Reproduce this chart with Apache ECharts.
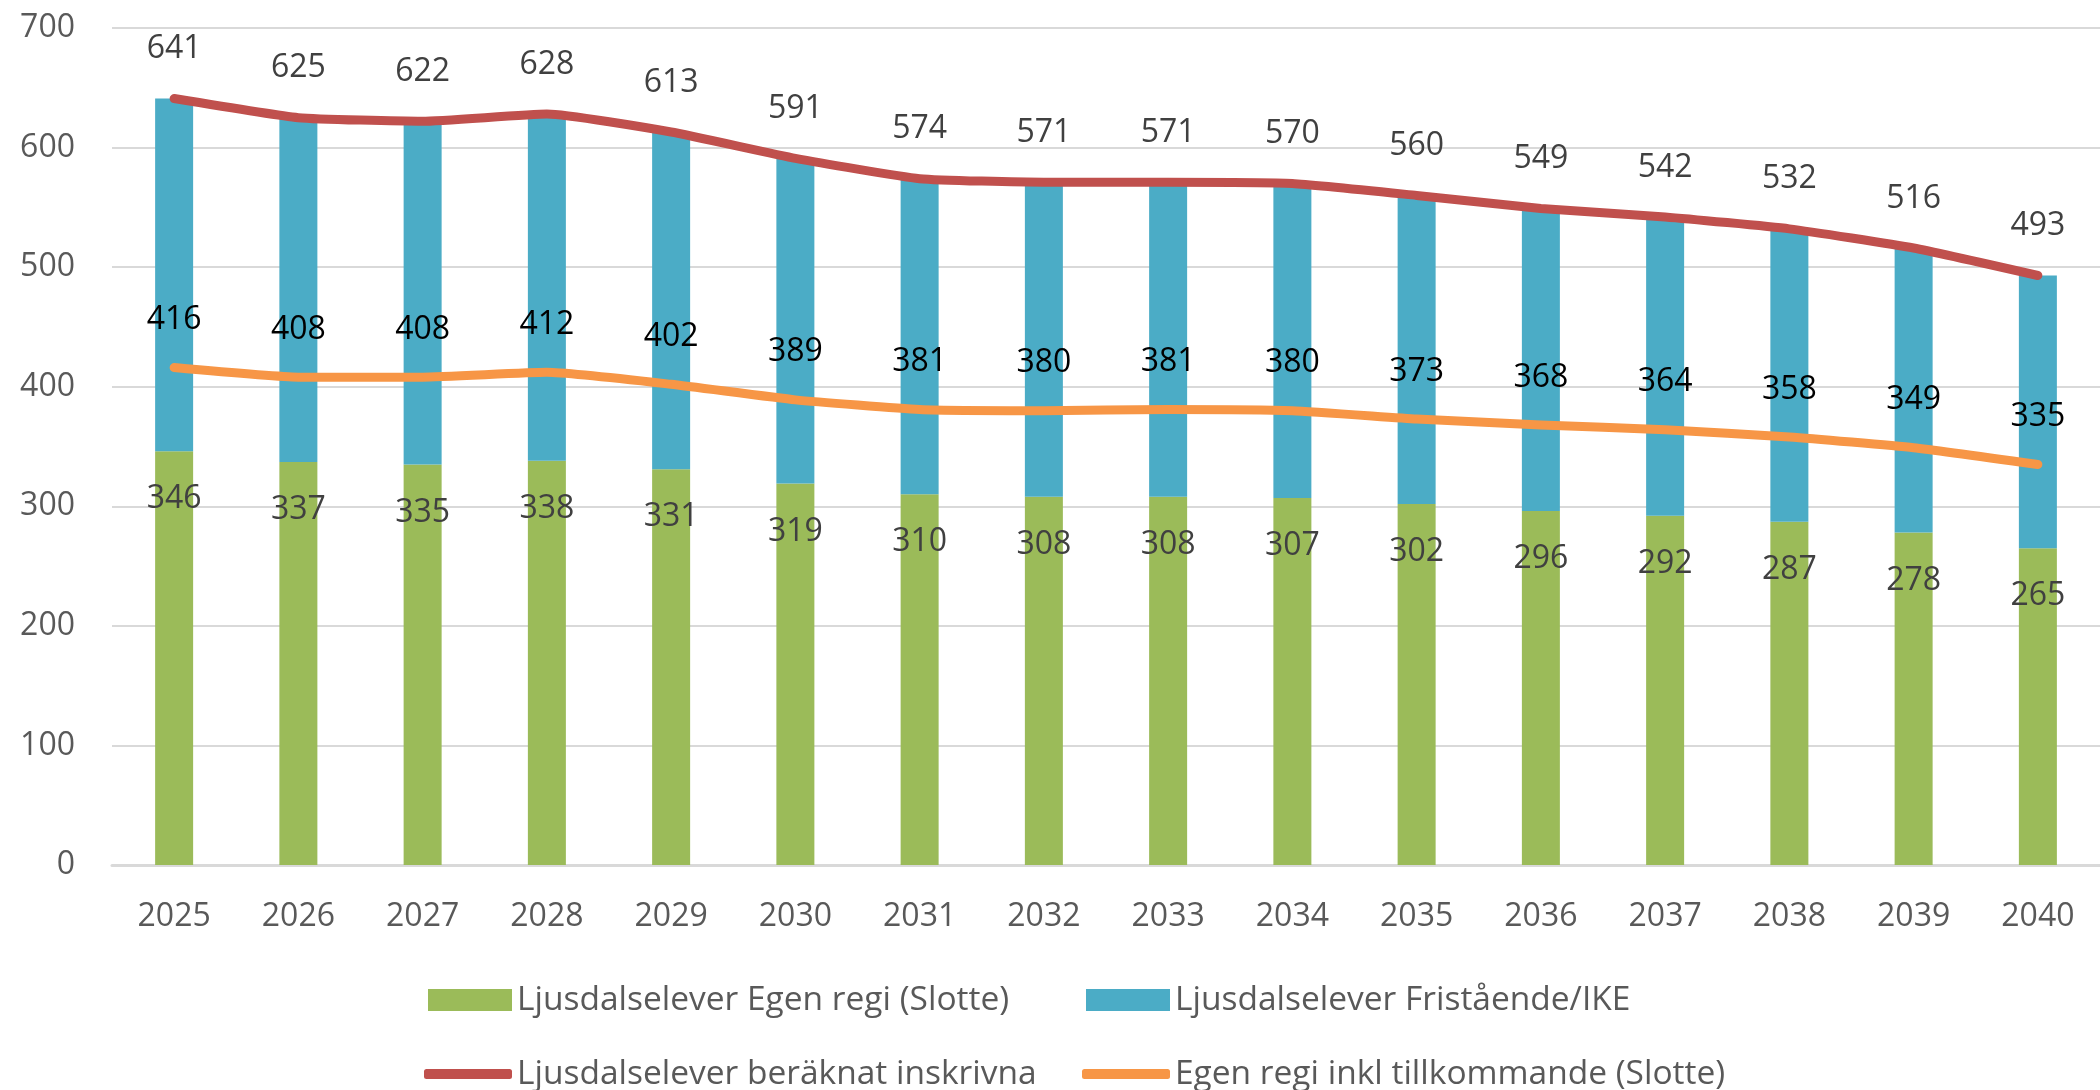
<!DOCTYPE html>
<html>
<head>
<meta charset="utf-8">
<script src="https://cdn.jsdelivr.net/npm/echarts@6/dist/echarts.min.js"></script>
<style>
html,body{margin:0;padding:0;background:#fff;}
#chart{width:2100px;height:1090px;}
</style>
</head>
<body>
<div id="chart"></div>
<script>
const years = ['2025','2026','2027','2028','2029','2030','2031','2032','2033','2034','2035','2036','2037','2038','2039','2040'];
const egenRegi = [346,337,335,338,331,319,310,308,308,307,302,296,292,287,278,265];
const fristaende = [295,288,287,290,282,272,264,263,263,263,258,253,250,245,238,228];
const beraknatInskrivna = [641,625,622,628,613,591,574,571,571,570,560,549,542,532,516,493];
const egenInklTillkommande = [416,408,408,412,402,389,381,380,381,380,373,368,364,358,349,335];
const yTicks = [0,100,200,300,400,500,600,700];

const names = [
  'Ljusdalselever Egen regi (Slotte)',
  'Ljusdalselever Fristående/IKE',
  'Ljusdalselever beräknat inskrivna',
  'Egen regi inkl tillkommande (Slotte)'
];
const colors = ['#9BBB59','#4BACC6','#C0504D','#F79646'];
const FONT = 'Open Sans';

const legendBase = {
  orient: 'horizontal',
  padding: 0,
  itemGap: 0,
  textStyle: {fontFamily: FONT, fontSize: 33.5, color: '#595959', lineHeight: 40},
  selectedMode: false
};

const chart = echarts.init(document.getElementById('chart'), null, {renderer: 'canvas'});
chart.setOption({
  animation: false,
  backgroundColor: '#ffffff',
  color: colors,
  grid: {left: 112, top: 28, width: 1992, height: 837, containLabel: false},
  legend: [
    Object.assign({}, legendBase, {data: [names[0]], left: 428, top: 980, itemWidth: 84, itemHeight: 22, icon: 'rect'}),
    Object.assign({}, legendBase, {data: [names[1]], left: 1086, top: 980, itemWidth: 84, itemHeight: 22, icon: 'rect'}),
    Object.assign({}, legendBase, {data: [names[2]], left: 424, top: 1054, itemWidth: 88, itemHeight: 10, icon: 'roundRect'}),
    Object.assign({}, legendBase, {data: [names[3]], left: 1082, top: 1054, itemWidth: 88, itemHeight: 10, icon: 'roundRect'})
  ],
  xAxis: {
    type: 'category',
    data: years,
    boundaryGap: true,
    axisLine: {show: true, lineStyle: {color: '#D9D9D9', width: 3}},
    axisTick: {show: false},
    axisLabel: {fontFamily: FONT, fontSize: 32, color: '#595959', margin: 36}
  },
  yAxis: {
    type: 'value',
    min: yTicks[0],
    max: yTicks[yTicks.length - 1],
    interval: 100,
    axisLine: {show: false},
    axisTick: {show: false},
    splitLine: {show: true, lineStyle: {color: '#D9D9D9', width: 2}},
    axisLabel: {fontFamily: FONT, fontSize: 32, color: '#595959', margin: 37}
  },
  series: [
    {
      name: names[0], type: 'bar', stack: 'total', data: egenRegi, barWidth: 38,
      itemStyle: {color: colors[0]},
      label: {show: true, position: 'insideTop', distance: 32, fontFamily: FONT, fontSize: 32, color: '#404040'},
      z: 2
    },
    {
      name: names[1], type: 'bar', stack: 'total', data: fristaende, barWidth: 38,
      itemStyle: {color: colors[1]},
      z: 2
    },
    {
      name: names[2], type: 'line', data: beraknatInskrivna, smooth: 0.15,
      showSymbol: true, symbol: 'circle', symbolSize: 1,
      lineStyle: {color: colors[2], width: 9, cap: 'round', join: 'round'},
      itemStyle: {color: colors[2]},
      label: {show: true, position: 'top', distance: 33, fontFamily: FONT, fontSize: 32, color: '#404040'},
      z: 5
    },
    {
      name: names[3], type: 'line', data: egenInklTillkommande, smooth: 0.15,
      showSymbol: true, symbol: 'circle', symbolSize: 1,
      lineStyle: {color: colors[3], width: 9, cap: 'round', join: 'round'},
      itemStyle: {color: colors[3]},
      label: {show: true, position: 'top', distance: 31, fontFamily: FONT, fontSize: 32, color: '#000000'},
      z: 5
    }
  ]
});
</script>
</body>
</html>
